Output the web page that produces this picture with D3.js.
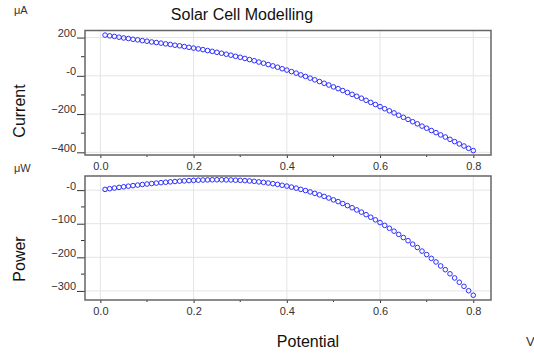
<!DOCTYPE html>
<html>
<head>
<meta charset="utf-8">
<script src="https://cdn.jsdelivr.net/npm/d3@7"></script>
<style>
  body { margin: 0; background: #fff; }
  text { font-family: "Liberation Sans", Arial, sans-serif; }
</style>
</head>
<body>
<div id="chart"></div>
<script>
// ---------------- data
const potential = d3.range(1, 81).map(i => +(i / 100).toFixed(2))   // 0.01 .. 0.80 V

const current = [
  213, 209, 206, 202, 198, 195, 191, 188, 184, 181,
  177, 174, 171, 167, 164, 160, 157, 153, 149, 145,
  141, 137, 132, 128, 123, 118, 113, 108, 102, 97,
  91, 85, 79, 72, 66, 59, 52, 45, 37, 30,
  22, 14, 5, -3, -12, -21, -30, -39, -48, -58,
  -67, -77, -87, -97, -107, -117, -128, -139, -150, -161,
  -172, -183, -194, -206, -217, -228, -240, -251, -263, -274,
  -286, -297, -309, -320, -332, -344, -356, -367, -379, -391
]

const power = [
  2.1, 4.2, 6.2, 8.1, 9.9, 11.7, 13.4, 15.0, 16.6, 18.1,
  19.5, 20.9, 22.2, 23.4, 24.6, 25.6, 26.7, 27.5, 28.3, 29.0,
  29.6, 30.1, 30.4, 30.7, 30.8, 30.7, 30.5, 30.2, 29.6, 29.1,
  28.2, 27.2, 26.1, 24.5, 23.1, 21.2, 19.2, 17.1, 14.4, 12.0,
  9.0, 5.9, 2.2, -1.3, -5.4, -9.7, -14.1, -18.7, -23.5, -29.0,
  -34.2, -40.0, -46.1, -52.4, -58.9, -65.5, -73.0, -80.6, -88.5, -96.6,
  -104.9, -113.5, -122.2, -131.8, -141.1, -150.5, -160.8, -170.7, -181.5, -191.8,
  -203.1, -213.8, -225.6, -236.8, -249.0, -261.4, -274.1, -286.3, -299.4, -312.8
]

const xTicks = [0, 0.2, 0.4, 0.6, 0.8]
const xMinor = [0.1, 0.3, 0.5, 0.7]
const currentTicks = [200, 0, -200, -400]
const currentMinor = [100, -100, -300]
const powerTicks = [0, -100, -200, -300]
const powerMinor = [-50, -150, -250]

// ---------------- dimensions
const width = 534, height = 358
const frameLeft = 85, frameRight = 491

const svg = d3.select("#chart").append("svg")
  .attr("width", width)
  .attr("height", height)

const x = d3.scaleLinear()
  .domain([-0.033, 0.838])
  .range([frameLeft, frameRight])

const panels = [
  { values: current, top: 30.5, bottom: 155, domain: [-414, 237], ticks: currentTicks, minor: currentMinor },
  { values: power, top: 176, bottom: 300, domain: [-327, 42], ticks: powerTicks, minor: powerMinor }
]

const tickLabel = d => d === 0 ? "-0" : d3.format("d")(d)

panels.forEach(p => {
  const y = d3.scaleLinear().domain(p.domain).range([p.bottom, p.top])
  const g = svg.append("g")

  // grid
  g.selectAll("line.vgrid").data(xTicks).join("line")
    .attr("x1", d => x(d)).attr("x2", d => x(d))
    .attr("y1", p.top).attr("y2", p.bottom)
    .attr("stroke", "#e4e4e4")
  g.selectAll("line.hgrid").data(p.ticks).join("line")
    .attr("x1", frameLeft).attr("x2", frameRight)
    .attr("y1", d => y(d)).attr("y2", d => y(d))
    .attr("stroke", "#e4e4e4")

  // y axis ticks
  const yAxis = g.append("g").attr("transform", `translate(${frameLeft},0)`)
    .call(d3.axisLeft(y).tickValues(p.ticks).tickSize(8).tickPadding(1).tickFormat(tickLabel))
  yAxis.select(".domain").remove()
  yAxis.selectAll("line").attr("stroke", "#333")
  yAxis.selectAll("text").attr("font-size", 11).attr("fill", "#333").attr("dy", "-0.1em")
  g.selectAll("line.yminor").data(p.minor).join("line")
    .attr("x1", frameLeft - 4).attr("x2", frameLeft)
    .attr("y1", d => y(d)).attr("y2", d => y(d))
    .attr("stroke", "#333")

  // x axis ticks
  const xAxis = g.append("g").attr("transform", `translate(0,${p.bottom})`)
    .call(d3.axisBottom(x).tickValues(xTicks).tickSize(3).tickPadding(4).tickFormat(d3.format(".1f")))
  xAxis.select(".domain").remove()
  xAxis.selectAll("line").attr("stroke", "#333")
  xAxis.selectAll("text").attr("font-size", 11).attr("fill", "#333")
  g.selectAll("line.xminor").data(xMinor).join("line")
    .attr("x1", d => x(d)).attr("x2", d => x(d))
    .attr("y1", p.bottom).attr("y2", p.bottom + 2)
    .attr("stroke", "#333")

  // frame
  g.append("rect")
    .attr("x", frameLeft).attr("y", p.top)
    .attr("width", frameRight - frameLeft).attr("height", p.bottom - p.top)
    .attr("fill", "none")
    .attr("stroke", "#666")
    .attr("stroke-width", 1.5)

  // points
  g.selectAll("circle").data(potential).join("circle")
    .attr("cx", d => x(d))
    .attr("cy", (d, i) => y(p.values[i]))
    .attr("r", 2.3)
    .attr("fill", "none")
    .attr("stroke", "#2f2fff")
    .attr("stroke-width", 1)
})

// ---------------- labels
svg.append("text").text("Solar Cell Modelling")
  .attr("x", 242).attr("y", 20).attr("text-anchor", "middle")
  .attr("font-size", 16).attr("fill", "#111")

svg.append("text").text("μA").attr("x", 14).attr("y", 14).attr("font-size", 11).attr("fill", "#333")
svg.append("text").text("μW").attr("x", 14).attr("y", 172).attr("font-size", 11).attr("fill", "#333")

svg.append("text").text("Current")
  .attr("transform", "translate(25,111) rotate(-90)")
  .attr("text-anchor", "middle").attr("font-size", 16).attr("fill", "#111")
svg.append("text").text("Power")
  .attr("transform", "translate(25,259) rotate(-90)")
  .attr("text-anchor", "middle").attr("font-size", 16).attr("fill", "#111")

svg.append("text").text("Potential")
  .attr("x", 308).attr("y", 347).attr("text-anchor", "middle")
  .attr("font-size", 16).attr("fill", "#111")
svg.append("text").text("V")
  .attr("x", 526).attr("y", 346).attr("font-size", 13).attr("fill", "#333")
</script>
</body>
</html>
